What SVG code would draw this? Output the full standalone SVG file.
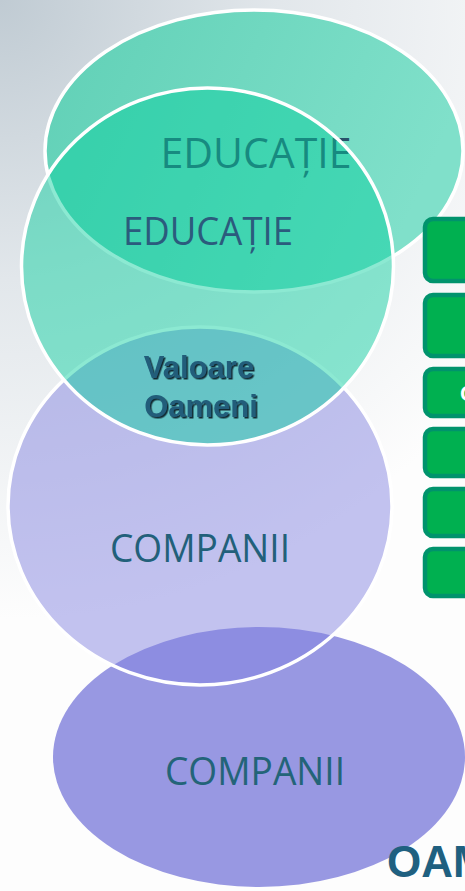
<svg xmlns="http://www.w3.org/2000/svg" width="465" height="891" viewBox="0 0 465 891">
  <defs>
    <radialGradient id="bg" cx="0" cy="0" r="620" gradientUnits="userSpaceOnUse">
      <stop offset="0" stop-color="#c0cbd3"/>
      <stop offset="0.45" stop-color="#e2e7eb"/>
      <stop offset="1" stop-color="#fdfdfd"/>
    </radialGradient>
    <linearGradient id="g1" x1="0" y1="0" x2="1" y2="0.3">
      <stop offset="0" stop-color="#60d0b6"/>
      <stop offset="1" stop-color="#80e0ca"/>
    </linearGradient>
    <filter id="sh" x="-10%" y="-10%" width="130%" height="140%">
      <feDropShadow dx="1.5" dy="1.5" stdDeviation="0.4" flood-color="#08202c" flood-opacity="0.95"/>
    </filter>
    <style>
      .ring { stroke: #ffffff; stroke-width: 3.5; }
      .lbl { font-family: "Open Sans", "Liberation Sans", sans-serif; text-anchor: middle; }
      .bold { font-family: "Liberation Sans", Arial, sans-serif; font-weight: bold; }
      .box { fill: #00b050; stroke: #00936c; stroke-width: 4.5; }
    </style>
  </defs>

  <rect width="465" height="891" fill="url(#bg)"/>

  <g id="companii-bottom">
    <ellipse cx="259" cy="757" rx="206" ry="130" fill="#9898e2"/>
    <text class="lbl" x="255" y="785" font-size="39" fill="#236478" textLength="180" lengthAdjust="spacingAndGlyphs">COMPANII</text>
  </g>

  <g id="companii-middle">
    <ellipse class="ring" cx="200" cy="506" rx="192" ry="179" fill="#8181df" fill-opacity="0.48"/>
    <text class="lbl" x="200" y="562" font-size="38" fill="#22607a" textLength="180" lengthAdjust="spacingAndGlyphs">COMPANII</text>
  </g>

  <g id="educatie-top">
    <ellipse class="ring" cx="254" cy="151" rx="209" ry="141" fill="url(#g1)"/>
    <text class="lbl" x="256" y="168" font-size="42" fill="#2a526a" textLength="191" lengthAdjust="spacingAndGlyphs">EDUCAȚIE</text>
  </g>

  <g id="educatie-middle">
    <ellipse class="ring" cx="207.5" cy="266.5" rx="186" ry="178.5" fill="#00cf9b" fill-opacity="0.45"/>
    <text class="lbl" x="208" y="245" font-size="38" fill="#2b5b7d" textLength="170" lengthAdjust="spacingAndGlyphs">EDUCAȚIE</text>
  </g>

  <g id="valoare-oameni">
    <text class="bold" x="199" y="378" font-size="31" fill="#215d7a" text-anchor="middle" filter="url(#sh)">Valoare</text>
    <text class="bold" x="201" y="417" font-size="31" fill="#215d7a" text-anchor="middle" filter="url(#sh)">Oameni</text>
  </g>

  <g id="green-boxes">
    <rect class="box" x="425" y="219" width="60" height="62" rx="8"/>
    <rect class="box" x="425" y="295" width="60" height="61" rx="8"/>
    <rect class="box" x="425" y="369" width="60" height="47" rx="8"/>
    <text class="bold" x="460" y="401" font-size="22" fill="#ffffff">C</text>
    <rect class="box" x="425" y="429" width="60" height="47" rx="8"/>
    <rect class="box" x="425" y="489" width="60" height="47" rx="8"/>
    <rect class="box" x="425" y="549" width="60" height="47" rx="8"/>
  </g>

  <g id="oameni-title">
    <text class="bold" x="387" y="877" font-size="44" fill="#1f6080">OAMENI</text>
  </g>
</svg>
